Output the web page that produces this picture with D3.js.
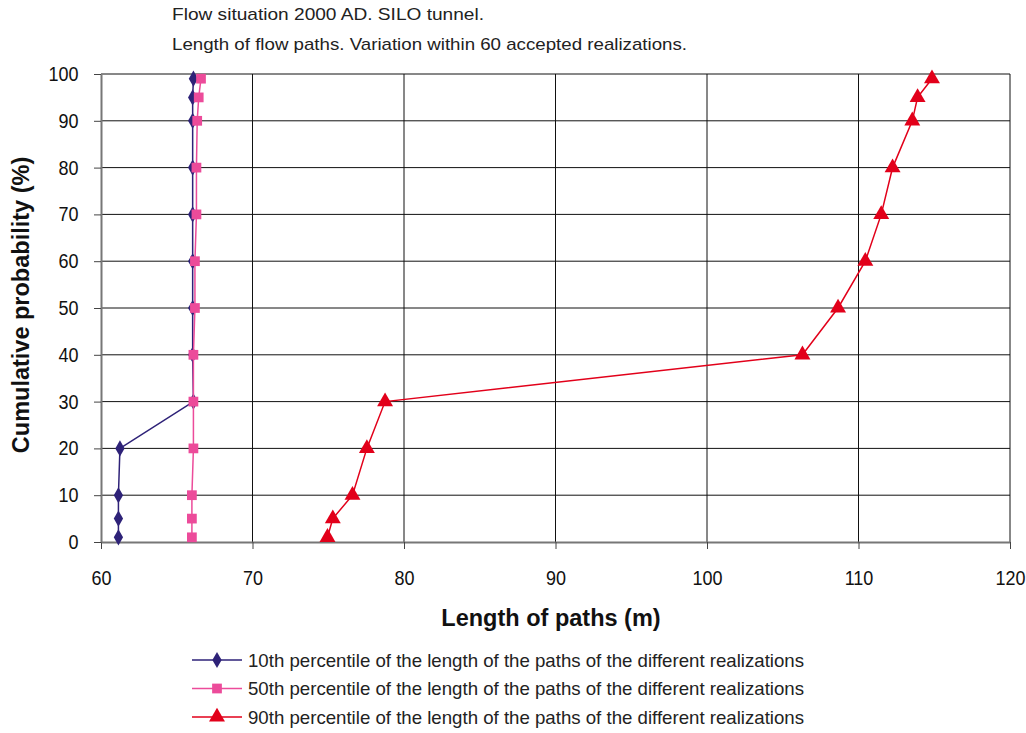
<!DOCTYPE html>
<html>
<head>
<meta charset="utf-8">
<script src="https://cdn.jsdelivr.net/npm/d3@7"></script>
<style>
  body { margin: 0; background: #fff; }
  text { font-family: "Liberation Sans", Arial, sans-serif; }
</style>
</head>
<body>
<svg id="grafico"></svg>
<script>
// dados
const probabilidades = [1, 5, 10, 20, 30, 40, 50, 60, 70, 80, 90, 95, 99];
const p10 = [61.15, 61.15, 61.15, 61.25, 66.1, 66.05, 66.05, 66.05, 66.05, 66.05, 66.05, 66.05, 66.1];
const p50 = [66.0, 66.0, 66.0, 66.1, 66.1, 66.1, 66.2, 66.2, 66.3, 66.3, 66.35, 66.45, 66.6];
const p90 = [74.95, 75.3, 76.6, 77.55, 78.75, 106.3, 108.65, 110.45, 111.5, 112.25, 113.55, 113.9, 114.85];
const ticksX = [60, 70, 80, 90, 100, 110, 120];
const ticksY = [0, 10, 20, 30, 40, 50, 60, 70, 80, 90, 100];
const titulos = ['Flow situation 2000 AD. SILO tunnel.', 'Length of flow paths. Variation within 60 accepted realizations.'];
const nomesSeries = [
  '10th percentile of the length of the paths of the different realizations',
  '50th percentile of the length of the paths of the different realizations',
  '90th percentile of the length of the paths of the different realizations'
];

const series = [
  { nome: nomesSeries[0], valores: p10, cor: '#2e2278', simbolo: d3.symbolDiamond, tam: 75 },
  { nome: nomesSeries[1], valores: p50, cor: '#ec4b9a', simbolo: d3.symbolSquare, tam: 95 },
  { nome: nomesSeries[2], valores: p90, cor: '#e2001a', simbolo: d3.symbolTriangle, tam: 110 }
];

let svg = d3.select('#grafico').attr('width', 1026).attr('height', 733);

const esq = 101, dir = 1010, topo = 74, base = 542;
const estica = 1.12; // o texto do original parece esticado na vertical

let fnX = d3.scaleLinear().domain([60, 120]).range([esq, dir]);
let fnY = d3.scaleLinear().domain([0, 100]).range([base, topo]);

// títulos
const larguraTitulos = [312, 515];
svg.selectAll('.titulo')
  .data(titulos)
  .enter()
  .append('text')
  .attr('x', 172)
  .attr('y', (d, i) => 20 + i * 30)
  .attr('font-size', 17)
  .attr('textLength', (d, i) => larguraTitulos[i])
  .attr('lengthAdjust', 'spacingAndGlyphs')
  .attr('fill', '#222')
  .text(d => d);

// grade
svg.append('g')
  .selectAll('line')
  .data(ticksY.slice(1))
  .enter()
  .append('line')
  .attr('x1', esq).attr('x2', dir)
  .attr('y1', d => fnY(d)).attr('y2', d => fnY(d))
  .attr('stroke', '#111').attr('stroke-width', 1);

svg.append('g')
  .selectAll('line')
  .data(ticksX.slice(1))
  .enter()
  .append('line')
  .attr('x1', d => fnX(d)).attr('x2', d => fnX(d))
  .attr('y1', topo).attr('y2', base)
  .attr('stroke', '#111').attr('stroke-width', 1);

// eixos
let eixoX = svg.append('g')
  .attr('transform', `translate(0, ${base})`)
  .call(d3.axisBottom(fnX).tickValues(ticksX).tickSize(7).tickSizeOuter(0));
let eixoY = svg.append('g')
  .attr('transform', `translate(${esq}, 0)`)
  .call(d3.axisLeft(fnY).tickValues(ticksY).tickSize(7).tickPadding(15.5).tickSizeOuter(0));

[eixoX, eixoY].forEach(e => {
  e.select('.domain').attr('stroke', '#777').attr('stroke-width', 2);
  e.selectAll('.tick line').attr('stroke', '#444');
  e.selectAll('.tick text')
    .attr('font-size', 18)
    .attr('fill', '#111')
    .attr('transform', `scale(1, ${estica})`)
    .style('font-family', '"Liberation Sans", Arial, sans-serif');
});
eixoX.selectAll('.tick text').attr('y', 42.8 / estica).attr('dy', 0);

// títulos dos eixos
svg.append('text')
  .attr('x', 551).attr('y', 626)
  .attr('text-anchor', 'middle')
  .attr('font-size', 23.5).attr('font-weight', 'bold')
  .attr('fill', '#111')
  .text('Length of paths (m)');

svg.append('text')
  .attr('transform', 'translate(29, 305) rotate(-90)')
  .attr('text-anchor', 'middle')
  .attr('font-size', 23.5).attr('font-weight', 'bold')
  .attr('fill', '#111')
  .text('Cumulative probability (%)');

// linhas e marcadores
let linha = d3.line()
  .x(d => fnX(d[0]))
  .y(d => fnY(d[1]));

series.forEach(s => {
  let pontos = s.valores.map((v, i) => [v, probabilidades[i]]);
  svg.append('path')
    .datum(pontos)
    .attr('d', linha)
    .attr('fill', 'none')
    .attr('stroke', s.cor)
    .attr('stroke-width', 1.5);
  svg.append('g')
    .selectAll('path')
    .data(pontos)
    .enter()
    .append('path')
    .attr('transform', d => `translate(${fnX(d[0])}, ${fnY(d[1])})`)
    .attr('d', d3.symbol().type(s.simbolo).size(s.tam))
    .attr('fill', s.cor);
});

// legenda
let legenda = svg.append('g')
  .selectAll('g')
  .data(series)
  .enter()
  .append('g')
  .attr('transform', (d, i) => `translate(0, ${660 + i * 28.5})`);

legenda.append('line')
  .attr('x1', 192).attr('x2', 242)
  .attr('stroke', d => d.cor).attr('stroke-width', 1.5);
legenda.append('path')
  .attr('transform', 'translate(217, 0)')
  .attr('d', d => d3.symbol().type(d.simbolo).size(d.tam)())
  .attr('fill', d => d.cor);
legenda.append('text')
  .attr('x', 248).attr('y', 6.5)
  .attr('font-size', 18.5)
  .attr('textLength', 556)
  .attr('lengthAdjust', 'spacingAndGlyphs')
  .attr('fill', '#222')
  .text(d => d.nome);
</script>
</body>
</html>
